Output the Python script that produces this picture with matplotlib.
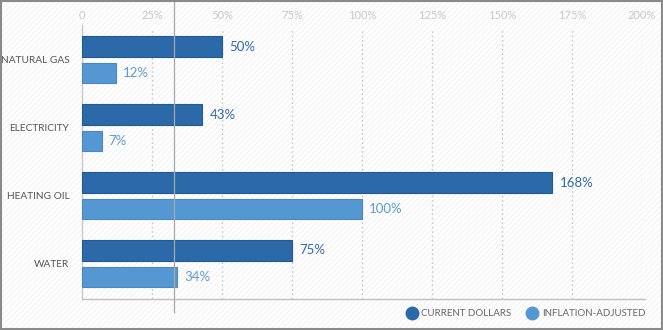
import matplotlib
matplotlib.use("Agg")
import matplotlib.pyplot as plt
from matplotlib.patches import Rectangle
from matplotlib.lines import Line2D
import numpy as np

plt.rcParams['font.family'] = ['Lato', 'DejaVu Sans']
plt.rcParams['hatch.linewidth'] = 0.6

categories = ["NATURAL GAS", "ELECTRICITY", "HEATING OIL", "WATER"]
current_dollars = [50, 43, 168, 75]
inflation_adjusted = [12, 7, 100, 34]
tick_values = [0, 25, 50, 75, 100, 125, 150, 175, 200]
tick_labels = ["0", "25%", "50%", "75%", "100%", "125%", "150%", "175%", "200%"]
series_names = ["CURRENT DOLLARS", "INFLATION-ADJUSTED"]
marker_value = 33

dark = "#2b69a8"
light = "#5597d3"
dark_txt = "#2f6aa8"
light_txt = "#5b9bd5"

W, H = 663, 330
fig = plt.figure(figsize=(W / 100, H / 100), dpi=100)
fig.patch.set_facecolor("white")

# hatched background
bg = Rectangle((0, 0), 1, 1, transform=fig.transFigure, facecolor="white",
               edgecolor="#efefef", hatch="//////", linewidth=0, zorder=-10)
fig.patches.append(bg)
border = Rectangle((0.001, 0.002), 0.997, 0.995, transform=fig.transFigure, fill=False,
                   edgecolor="#8a8a8a", linewidth=1.5, zorder=10)
fig.patches.append(border)

left, right, top, bottom = 82, 642, 28, 299
ax = fig.add_axes([left / W, 1 - bottom / H, (right - left) / W, (bottom - top) / H])
ax.patch.set_alpha(0)

y = np.arange(len(categories))
off = 0.195
h = 0.30
ax.barh(y - off, current_dollars, height=h, color=dark, edgecolor="#1f5a96", linewidth=0.8, zorder=3)
ax.barh(y + off, inflation_adjusted, height=h, color=light, edgecolor="#4a88c4", linewidth=0.8, zorder=3)

for yi, v in zip(y, current_dollars):
    ax.text(v + 2.5, yi - off, f"{v}%", va="center", ha="left", fontsize=9.5, color=dark_txt, zorder=4)
for yi, v in zip(y, inflation_adjusted):
    ax.text(v + 2.5, yi + off, f"{v}%", va="center", ha="left", fontsize=9.5, color=light_txt, zorder=4)

ax.set_xlim(0, 200)
ax.set_ylim(3.52, -0.47)

# gridlines
for t in tick_values[1:]:
    ax.axvline(t, color="#c8c8c8", linestyle=(0, (1.2, 2)), linewidth=1, zorder=1)
ax.axvline(0, color="#c8c8c8", linewidth=1, ymax=1.01, clip_on=False, zorder=2)

ax.xaxis.tick_top()
ax.set_xticks(tick_values)
ax.set_xticklabels(tick_labels, fontsize=8, color="#c8c8c8")
ax.tick_params(axis="x", length=0, pad=5)
ax.set_yticks(y)
ax.set_yticklabels(categories, fontsize=7.3, color="#555555")
ax.tick_params(axis="y", length=0, pad=9)
for s in ["top", "left", "right"]:
    ax.spines[s].set_visible(False)
ax.spines["bottom"].set_color("#c0c0c0")
ax.spines["bottom"].set_linewidth(1)
ax.spines["bottom"].set_bounds(0, 201)

# reference marker line
ax.axvline(marker_value, ymin=-0.048, ymax=1.105, color="#a8a8a8", linewidth=0.9, clip_on=False, zorder=5)

handles = [Line2D([], [], marker="o", linestyle="none", markersize=9, color=c) for c in (dark, light)]
leg = fig.legend(handles, series_names, loc="center right", bbox_to_anchor=(650 / W, 1 - 314 / H),
                 ncol=2, frameon=False, fontsize=7, handletextpad=0.5, columnspacing=1.6,
                 handlelength=1.0, borderpad=0)
for t in leg.get_texts():
    t.set_color("#666666")

fig.savefig("out.png", dpi=100)
